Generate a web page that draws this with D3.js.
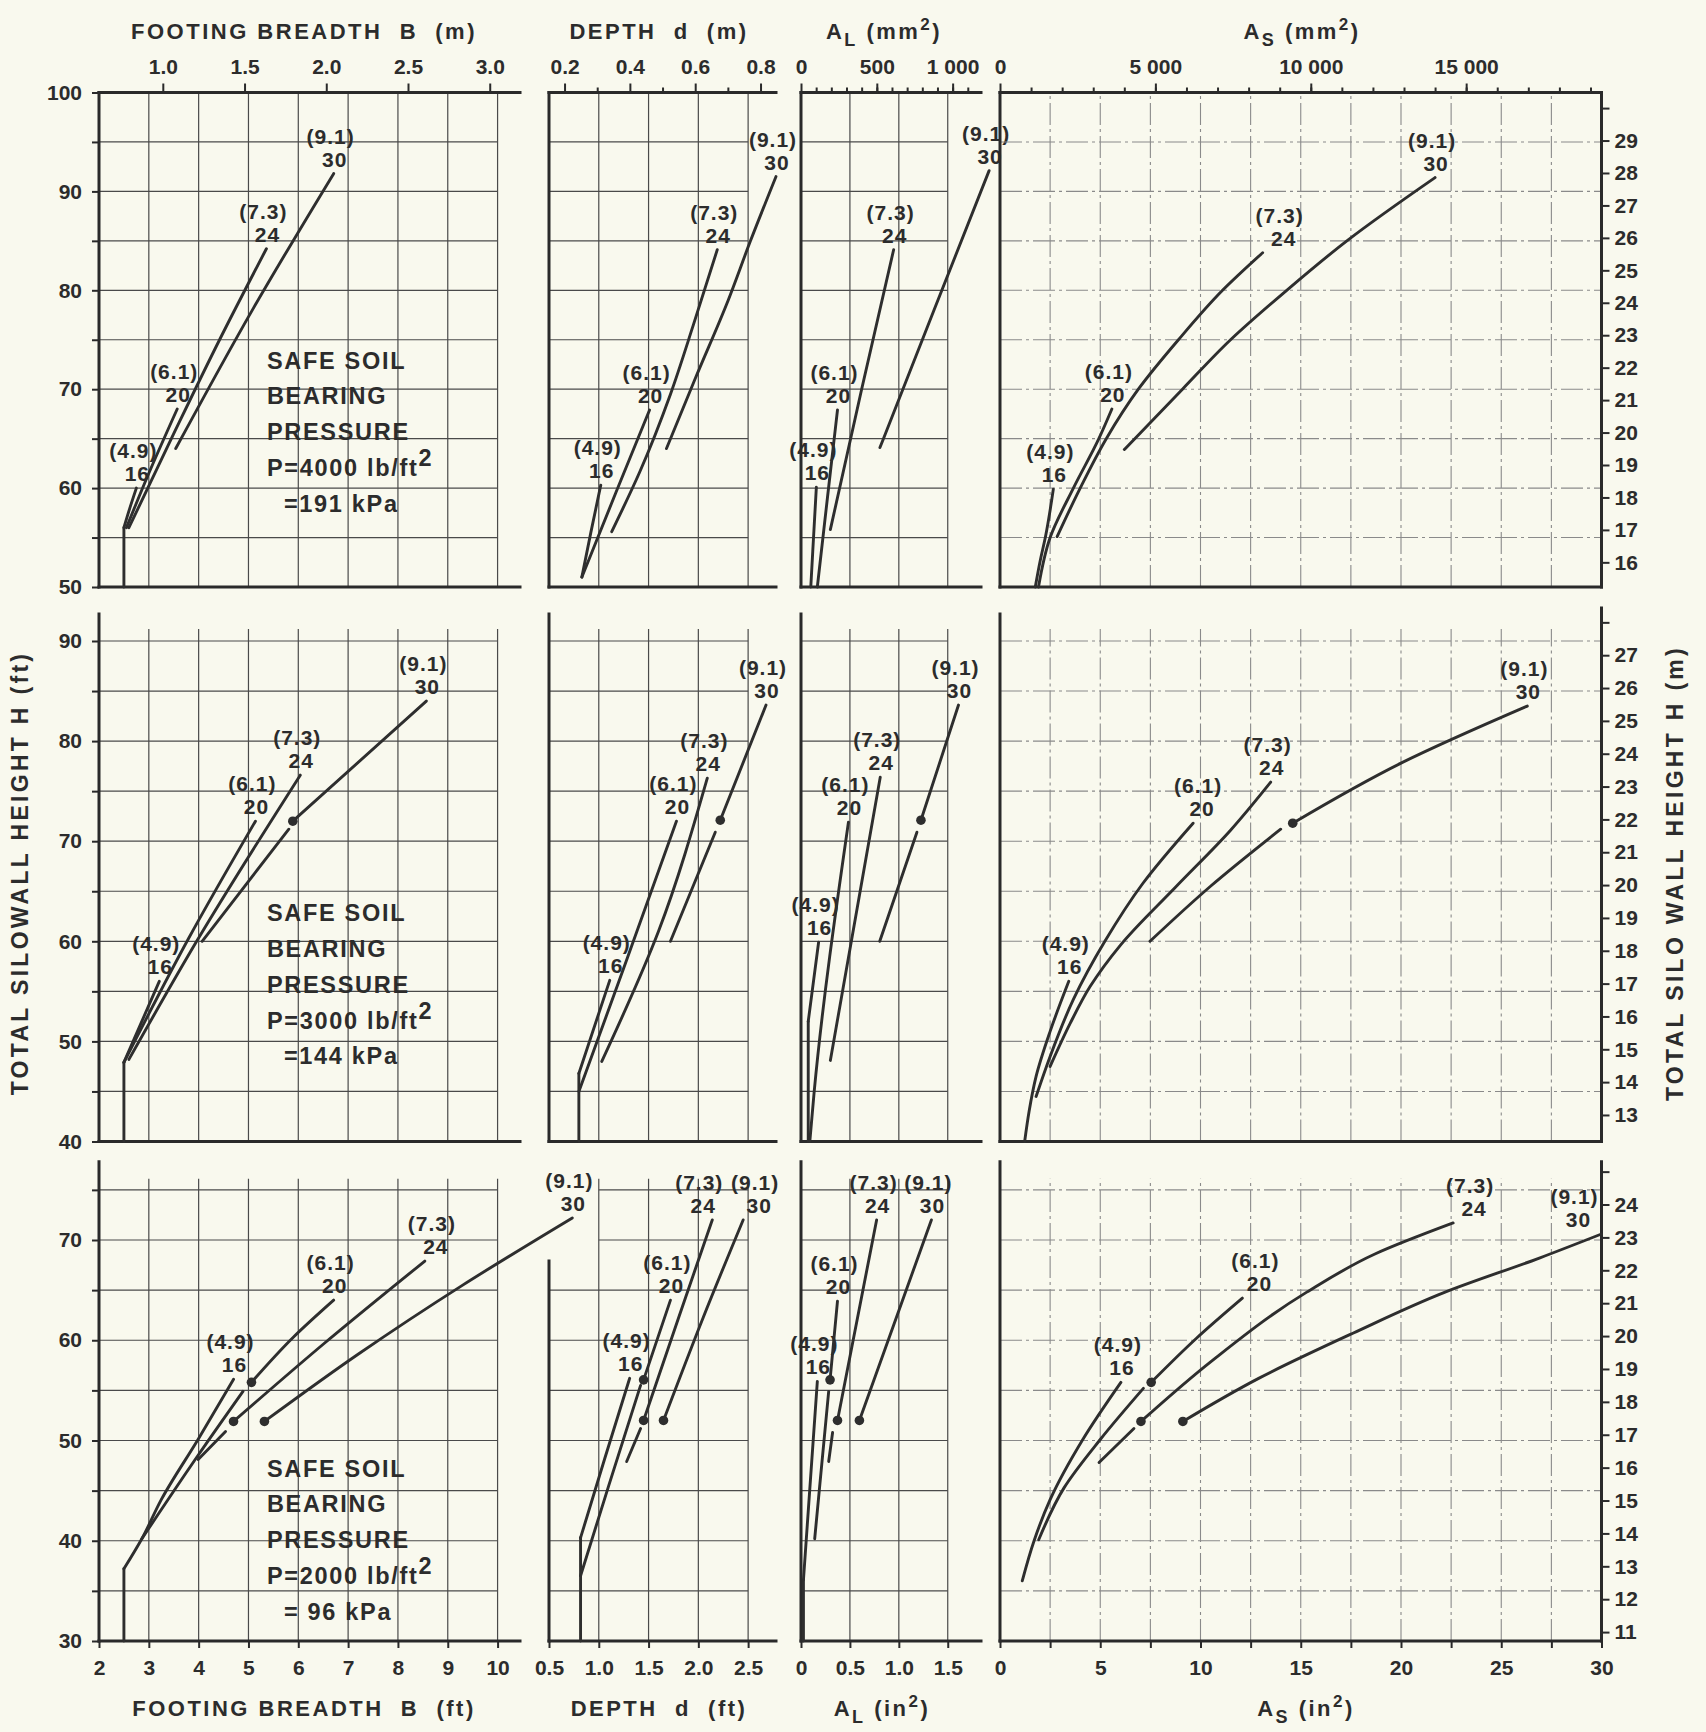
<!DOCTYPE html>
<meta charset="utf-8">
<head>
<style>
body { margin: 0; background: #f9f9ee; }
svg { display: block; }
text { font-family: "Liberation Sans", Arial, sans-serif; font-weight: bold; fill: #2c2c2c; }
.grid { stroke: #4a4a4a; stroke-width: 1.2; }
.grid.light { stroke: #8a8a8a; stroke-width: 1.1; stroke-dasharray: 22 4 3 4; }
.frame { stroke: #2a2a2a; stroke-width: 3; stroke-linecap: square; }
.curve { fill: none; stroke: #2e2e2e; stroke-width: 2.9; stroke-linecap: round; stroke-linejoin: round; }
.dot { fill: #2e2e2e; }
.tick line { stroke: #2a2a2a; stroke-width: 2; }
</style>
<script src="https://d3js.org/d3.v7.min.js"></script>
</head>
<body>
<div id="chart"></div>
<script>
var width = 1706,
    height = 1732;

var FT_PER_M = 3.2808,
    MM2_PER_IN2 = 645.16;

// silo diameters, ft and (m)
var diameters = ["16", "20", "24", "30"];
var diametersM = ["(4.9)", "(6.1)", "(7.3)", "(9.1)"];

// safe soil bearing pressure per row
var pressures = ["4000", "3000", "2000"];
var pressuresKPa = ["=191 kPa", "=144 kPa", "= 96 kPa"];

// tick labels
var heightFt4000 = [50, 60, 70, 80, 90, 100];
var heightFt3000 = [40, 50, 60, 70, 80, 90];
var heightFt2000 = [30, 40, 50, 60, 70];
var heightM4000 = [16, 17, 18, 19, 20, 21, 22, 23, 24, 25, 26, 27, 28, 29];
var heightM3000 = [13, 14, 15, 16, 17, 18, 19, 20, 21, 22, 23, 24, 25, 26, 27];
var heightM2000 = [11, 12, 13, 14, 15, 16, 17, 18, 19, 20, 21, 22, 23, 24];
var breadthFtTicks = [2, 3, 4, 5, 6, 7, 8, 9, 10];
var depthFtTicks = [0.5, 1.0, 1.5, 2.0, 2.5];
var alInTicks = [0, 0.5, 1.0, 1.5];
var asInTicks = [0, 5, 10, 15, 20, 25, 30];
var breadthMTicks = [1.0, 1.5, 2.0, 2.5, 3.0];
var depthMTicks = [0.2, 0.4, 0.6, 0.8];
var alMmTicks = [0, 500, 1000];
var asMmTicks = [0, 5000, 10000, 15000];

// curves: one entry per diameter, each a list of polylines of [value, H (ft)]
// P = 4000 lb/ft2
var breadth4000 = [
  [[[2.5, 50], [2.5, 56]], [[2.5, 56], [2.62, 58], [2.75, 60]]],
  [[[2.55, 56], [3.0, 61.5], [3.57, 68]]],
  [[[2.6, 56], [3.5, 65.5], [4.4, 74.8], [5.36, 84.2]]],
  [[[3.54, 64], [5.1, 78.2], [6.71, 91.8]]]
];
var depth4000 = [
  [[[0.83, 51.0], [0.92, 55.5], [1.02, 60.3]]],
  [[[0.83, 51.0], [1.17, 59.5], [1.51, 67.9]]],
  [[[1.13, 55.6], [1.41, 61.6], [1.72, 69.5], [1.95, 76.5], [2.19, 84.1]]],
  [[[1.68, 64], [1.97, 71.1], [2.3, 79], [2.52, 84.9], [2.78, 91.5]]]
];
var al4000 = [
  [[[0.1, 50], [0.128, 55], [0.157, 60.1]]],
  [[[0.167, 50], [0.27, 59], [0.373, 67.9]]],
  [[[0.3, 55.8], [0.62, 70], [0.947, 84.1]]],
  [[[0.807, 64.1], [1.36, 78], [1.923, 92.1]]]
];
var as4000 = [
  [[[1.76, 50], [2.0, 52.6], [2.27, 55.1], [2.66, 59.9]]],
  [[[1.92, 50], [2.5, 55], [3.66, 60], [4.93, 65], [5.58, 68]]],
  [[[2.85, 55.1], [4.0, 60], [5.3, 65], [6.9, 70], [8.9, 75], [11.1, 80], [13.1, 83.8]]],
  [[[6.2, 63.9], [9.1, 70], [11.5, 75], [14.3, 80], [17.3, 85], [21.7, 91.4]]]
];

// P = 3000 lb/ft2
var breadth3000 = [
  [[[2.5, 40], [2.5, 47.9]], [[2.5, 47.9], [3.21, 56.0]]],
  [[[2.5, 47.9], [3.8, 60.3], [5.14, 72.0]]],
  [[[2.6, 48.2], [3.96, 60], [6.04, 76.6]]],
  [[[4.07, 60], [5.81, 71.2]], [[5.89, 72], [8.57, 84]]]
];
var breadth3000Dots = [[5.89, 72]];
var depth3000 = [
  [[[0.8, 40], [0.8, 46.8]], [[0.8, 46.8], [1.11, 56.1]]],
  [[[0.8, 45], [1.25, 57.3], [1.78, 72.0]]],
  [[[1.03, 48], [1.6, 61], [2.09, 76.3]]],
  [[[1.72, 60], [2.17, 70.9]], [[2.22, 72.1], [2.68, 83.6]]]
];
var depth3000Dots = [[2.22, 72.1]];
var al3000 = [
  [[[0.074, 40], [0.074, 52]], [[0.074, 52], [0.18, 59.9]]],
  [[[0.09, 40], [0.135, 45], [0.485, 71.9]]],
  [[[0.3, 48.1], [0.81, 76.4]]],
  [[[0.805, 60], [1.185, 70.9]], [[1.226, 72.1], [1.61, 83.6]]]
];
var al3000Dots = [[1.226, 72.1]];
var as3000 = [
  [[[1.23, 40], [1.45, 43], [1.8, 46.5], [2.5, 51], [3.43, 56]]],
  [[[1.8, 44.5], [2.5, 48.5], [3.66, 54.2], [5.23, 60], [7.13, 65.8], [9.63, 71.8]]],
  [[[2.5, 47.5], [3.5, 51.8], [4.5, 55.5], [6.0, 59.6], [8.75, 65.4], [11.5, 71.1], [13.5, 75.9]]],
  [[[7.48, 60], [10.5, 65.5], [14.0, 71.2]], [[14.6, 71.8], [20, 77.8], [26.3, 83.5]]]
];
var as3000Dots = [[14.6, 71.8]];

// P = 2000 lb/ft2
var breadth2000 = [
  [[[2.5, 30], [2.5, 37.2]], [[2.5, 37.2], [2.86, 40.2], [3.25, 44.1], [4.0, 50.2], [4.7, 56.1]]],
  [[[2.86, 40.2], [4.0, 48.6], [4.89, 54.9]], [[5.06, 55.8], [5.9, 60.3], [6.71, 64.0]]],
  [[[3.99, 48.1], [4.54, 50.9]], [[4.7, 51.9], [6.5, 59.6], [8.54, 67.9]]],
  [[[5.32, 51.9], [7.2, 58.6], [9.3, 65.5], [11.5, 72.2]]]
];
var breadth2000Dots = [[5.06, 55.8], [4.7, 51.9], [5.32, 51.9]];
var depth2000 = [
  [[[0.817, 30], [0.817, 40.3]], [[0.817, 40.3], [1.06, 48.2], [1.31, 56.2]]],
  [[[0.817, 36.5], [1.1, 45.5], [1.42, 55.5]], [[1.45, 56.05], [1.72, 64.0]]],
  [[[1.28, 47.9], [1.42, 51.2]], [[1.45, 52.0], [1.8, 62.2], [2.14, 72.0]]],
  [[[1.65, 52], [2.05, 62.3], [2.45, 72]]]
];
var depth2000Dots = [[1.45, 56.05], [1.45, 52.0], [1.65, 52]];
var al2000 = [
  [[[0.025, 30], [0.025, 36.1]], [[0.025, 36.1], [0.167, 55.9]]],
  [[[0.14, 40.2], [0.283, 54.9]], [[0.297, 56.05], [0.373, 63.9]]],
  [[[0.283, 47.9], [0.323, 50.8]], [[0.373, 52], [0.773, 72]]],
  [[[0.597, 52], [1.333, 72]]]
];
var al2000Dots = [[0.297, 56.05], [0.373, 52], [0.597, 52]];
var as2000 = [
  [[[1.11, 36], [1.7, 40], [2.5, 44.1], [4.13, 50.1], [6.03, 55.8]]],
  [[[1.93, 40.1], [3.2, 45.3], [5.0, 50.1], [7.15, 55.2]], [[7.54, 55.8], [9.8, 60.2], [12.09, 64.2]]],
  [[[4.94, 47.8], [6.68, 51.2]], [[7.03, 51.9], [10.6, 58], [15.3, 64.8], [18.7, 68.6], [22.6, 71.7]]],
  [[[9.12, 51.9], [12.9, 56.2], [17.6, 60.7], [22.2, 64.8], [26.9, 68.2], [30, 70.6]]]
];
var as2000Dots = [[7.54, 55.8], [7.03, 51.9], [9.12, 51.9]];

var panelData = [
  [breadth4000, depth4000, al4000, as4000],
  [breadth3000, depth3000, al3000, as3000],
  [breadth2000, depth2000, al2000, as2000]
];
var panelDots = [
  [[], [], [], []],
  [breadth3000Dots, depth3000Dots, al3000Dots, as3000Dots],
  [breadth2000Dots, depth2000Dots, al2000Dots, as2000Dots]
];

// layout
var thousands = function(d) { return d >= 1000 ? d3.format(",")(d).replace(",", " ") : String(d); };
var cols = [
  {x0: 99, x1: 520, domain: [2, 10.45], grid: [3, 4, 5, 6, 7, 8, 9, 10], gridEnd: 10,
   ticks: breadthFtTicks, fmt: d3.format("d"), metric: 1 / FT_PER_M,
   topMajor: breadthMTicks, topMinor: [], topFmt: d3.format(".1f")},
  {x0: 549, x1: 776, domain: [0.5, 2.78], grid: [1, 1.5, 2, 2.5], gridEnd: 2.5,
   ticks: depthFtTicks, fmt: d3.format(".1f"), metric: 1 / FT_PER_M,
   topMajor: depthMTicks, topMinor: [0.3, 0.5, 0.7], topFmt: d3.format(".1f")},
  {x0: 801, x1: 981, domain: [0, 1.84], grid: [0.5, 1, 1.5], gridEnd: 1.5,
   ticks: alInTicks, fmt: function(d) { return d === 0 ? "0" : d3.format(".1f")(d); }, metric: MM2_PER_IN2,
   topMajor: alMmTicks, topMinor: d3.range(100, 1101, 100), topFmt: thousands},
  {x0: 1000, x1: 1601.5, domain: [0, 30], grid: d3.range(2.5, 27.6, 2.5), gridEnd: 30,
   ticks: asInTicks, fmt: d3.format("d"), metric: MM2_PER_IN2,
   topMajor: asMmTicks, topMinor: d3.range(1000, 19001, 1000), topFmt: thousands}
];
var rows = [
  {yBottom: 587, yTop: 92.5, domain: [50, 100], hGridTop: 95, vGridTop: 100, axisTop: 100,
   rightTop: 100, leftTicks: d3.range(50, 101, 5), leftLabels: heightFt4000,
   mOffset: 0, mTicks: d3.range(16, 31), mLabels: heightM4000, noteH: 72.9},
  {yBottom: 1141.5, yTop: 641, domain: [40, 90], hGridTop: 90, vGridTop: 91.2, axisTop: 92.7,
   rightTop: 93.3, leftTicks: d3.range(40, 91, 5), leftLabels: heightFt3000,
   mOffset: 0, mTicks: d3.range(13, 29), mLabels: heightM3000, noteH: 62.8},
  {yBottom: 1641, yTop: 1240, domain: [30, 70], hGridTop: 75, vGridTop: 76.1, axisTop: 77.8,
   rightTop: 77.8, leftTicks: d3.range(30, 76, 5), leftLabels: heightFt2000,
   mOffset: -5.2, mTicks: d3.range(11, 26), mLabels: heightM2000, noteH: 47.2}
];
// horizontal nudges for curve labels, keyed row-col-curve
var labelShift = {"0-3-2": 20, "1-3-1": 8, "2-0-2": 10, "2-1-2": -10, "2-1-3": 15,
                  "2-3-1": 16, "2-3-2": 20, "2-3-3": -24};

var svg = d3.select("#chart").append("svg")
    .attr("width", width)
    .attr("height", height);

svg.append("rect").attr("width", width).attr("height", height).attr("fill", "#f9f9ee");

var line = d3.line().curve(d3.curveMonotoneY);

function hline(g, x1, x2, yv, cls) {
  g.append("line").attr("class", cls).attr("x1", x1).attr("x2", x2).attr("y1", yv).attr("y2", yv);
}
function vline(g, xv, y1, y2, cls) {
  g.append("line").attr("class", cls).attr("x1", xv).attr("x2", xv).attr("y1", y1).attr("y2", y2);
}

function styleAxis(sel) {
  sel.select(".domain").remove();
  sel.selectAll("text").attr("fill", "#2c2c2c").style("font-size", "21px");
}

rows.forEach(function(row, r) {
  cols.forEach(function(col, c) {
    var x = d3.scaleLinear().domain(col.domain).range([col.x0, col.x1]);
    var y = d3.scaleLinear().domain(row.domain).range([row.yBottom, row.yTop]);
    var g = svg.append("g");
    var H0 = row.domain[0];
    var axisTop = (r === 2 && c === 1) ? 67.9 : row.axisTop;
    var gridCls = c === 3 ? "grid light" : "grid";

    // grid
    d3.range(H0 + 5, row.hGridTop + 0.01, 5).forEach(function(h) {
      var start = h > axisTop ? x(col.grid[0]) : x(col.domain[0]);
      hline(g, start, x(col.gridEnd), y(h), gridCls);
    });
    col.grid.forEach(function(v) {
      if (v < col.domain[1]) vline(g, x(v), y(H0), y(row.vGridTop), gridCls);
    });

    // frame
    vline(g, x(col.domain[0]), y(H0), y(axisTop), "frame");
    hline(g, x(col.domain[0]), x(col.domain[1]), y(H0), "frame");
    if (r === 0) hline(g, x(col.domain[0]), x(col.domain[1]), y(100), "frame");
    if (c === 3) vline(g, x(30), y(H0), y(row.rightTop), "frame");

    // left height axis (ft)
    if (c === 0) {
      g.append("g")
        .attr("transform", "translate(" + x(col.domain[0]) + ",0)")
        .call(d3.axisLeft(y).tickValues(row.leftTicks).tickSize(7).tickPadding(10)
          .tickFormat(function(d) { return row.leftLabels.indexOf(d) >= 0 ? d : ""; }))
        .call(styleAxis);
    }
    // right height axis (m)
    if (c === 3) {
      var mLo = row.mTicks[0], mHi = row.mTicks[row.mTicks.length - 1];
      var yM = d3.scaleLinear().domain([mLo, mHi])
        .range([y(mLo * FT_PER_M + row.mOffset), y(mHi * FT_PER_M + row.mOffset)]);
      g.append("g")
        .attr("transform", "translate(" + x(30) + ",0)")
        .call(d3.axisRight(yM).tickValues(row.mTicks).tickSize(8).tickPadding(5)
          .tickFormat(function(d) { return row.mLabels.indexOf(d) >= 0 ? d : ""; }))
        .call(styleAxis);
    }
    // top metric axis
    if (r === 0) {
      var xm = d3.scaleLinear().domain(col.domain.map(function(v) { return v * col.metric; }))
        .range([col.x0, col.x1]);
      g.append("g")
        .attr("transform", "translate(0," + y(100) + ")")
        .call(d3.axisTop(xm).tickValues(col.topMinor).tickSize(5).tickFormat(""))
        .call(styleAxis);
      g.append("g")
        .attr("transform", "translate(0," + y(100) + ")")
        .call(d3.axisTop(xm).tickValues(col.topMajor).tickSize(9).tickPadding(10).tickFormat(col.topFmt))
        .call(styleAxis);
    }
    // bottom imperial axis
    if (r === 2) {
      g.append("g")
        .attr("transform", "translate(0," + y(H0) + ")")
        .call(d3.axisBottom(x).tickValues(c === 3 ? d3.range(0, 30.1, 2.5) : col.ticks).tickSize(7).tickPadding(12)
          .tickFormat(function(d) { return col.ticks.indexOf(d) >= 0 ? col.fmt(d) : ""; }))
        .call(styleAxis);
    }

    // curves
    line.x(function(d) { return x(d[0]); }).y(function(d) { return y(d[1]); });
    panelData[r][c].forEach(function(curve, i) {
      curve.forEach(function(part) {
        g.append("path").attr("class", "curve").attr("d", line(part));
      });
      var lastPart = curve[curve.length - 1];
      var end = lastPart[lastPart.length - 1];
      var ex = x(end[0]) + (labelShift[r + "-" + c + "-" + i] || 0);
      var ey = y(end[1]);
      g.append("text").attr("x", ex - 3).attr("y", ey - 30)
        .attr("text-anchor", "middle").style("font-size", "21px").style("letter-spacing", "1px")
        .text(diametersM[i]);
      g.append("text").attr("x", ex + 1).attr("y", ey - 7)
        .attr("text-anchor", "middle").style("font-size", "21px").style("letter-spacing", "1px")
        .text(diameters[i]);
    });
    g.selectAll(".dot").data(panelDots[r][c]).enter().append("circle")
      .attr("class", "dot")
      .attr("cx", function(d) { return x(d[0]); })
      .attr("cy", function(d) { return y(d[1]); })
      .attr("r", 4.8);

    // pressure note
    if (c === 0) {
      var nx = x(5.37), ny = y(row.noteH) + 8;
      var note = g.append("g").style("font-size", "23.5px").style("letter-spacing", "1.7px");
      ["SAFE SOIL", "BEARING", "PRESSURE"].forEach(function(t, k) {
        note.append("text").attr("x", nx).attr("y", ny + k * 35.8).text(t);
      });
      var pt = note.append("text").attr("x", nx).attr("y", ny + 3 * 35.8);
      pt.append("tspan").text("P=" + pressures[r] + " lb/ft");
      pt.append("tspan").attr("dy", -10).text("2");
      note.append("text").attr("x", nx + 17).attr("y", ny + 4 * 35.8).text(pressuresKPa[r]);
    }
  });
});

// axis titles
function title(xc, yc, parts, rotate, spacing) {
  var t = svg.append("text")
    .attr("text-anchor", "middle")
    .style("font-size", rotate ? "23px" : "22px")
    .style("letter-spacing", (spacing || 2.5) + "px")
    .style("white-space", "pre")
    .attr("transform", "translate(" + xc + "," + yc + ")" + (rotate ? " rotate(-90)" : ""));
  parts.forEach(function(p) {
    var s = t.append("tspan").text(p[0]);
    if (p[1]) s.attr("dy", p[1]);
    if (p[2]) s.style("font-size", p[2] + "px");
  });
  return t;
}

title(304, 39, [["FOOTING BREADTH  B  (m)"]]);
title(659, 39, [["DEPTH  d  (m)"]]);
title(884, 39, [["A"], ["L", 7, 18], [" (mm", -7], ["2", -9, 17], [")", 9]]);
title(1302, 39, [["A"], ["S", 7, 18], [" (mm", -7], ["2", -9, 17], [")", 9]]);

title(304, 1716, [["FOOTING BREADTH  B  (ft)"]]);
title(659, 1716, [["DEPTH  d  (ft)"]]);
title(882, 1716, [["A"], ["L", 7, 18], [" (in", -7], ["2", -9, 17], [")", 9]]);
title(1306, 1716, [["A"], ["S", 7, 18], [" (in", -7], ["2", -9, 17], [")", 9]]);

title(28, 873, [["TOTAL SILOWALL HEIGHT H (ft)"]], true, 3.3);
title(1683, 873, [["TOTAL SILO WALL HEIGHT H (m)"]], true, 3.3);
</script>
</body>
